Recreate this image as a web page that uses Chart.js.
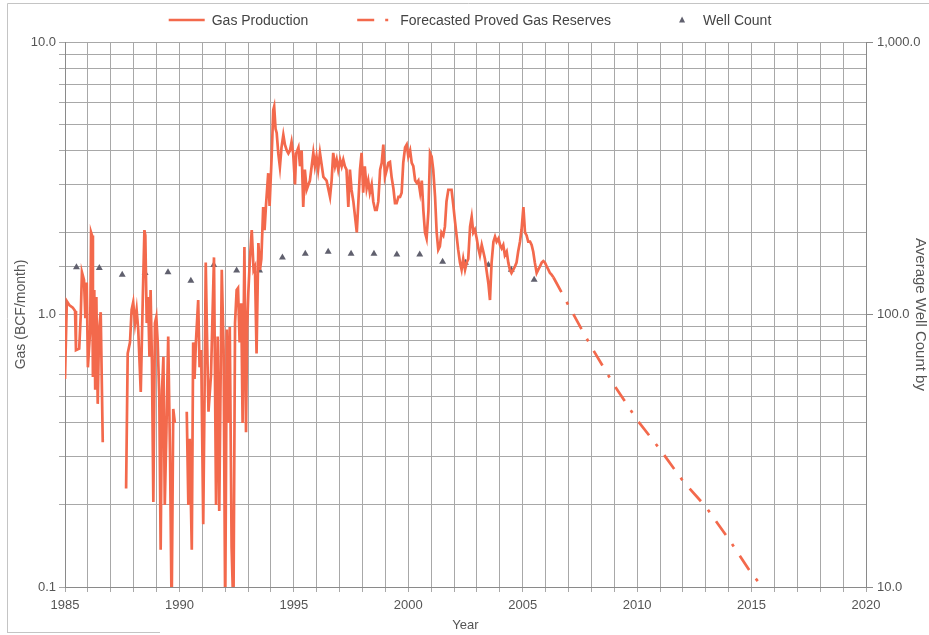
<!DOCTYPE html>
<html><head><meta charset="utf-8">
<script src="https://cdn.jsdelivr.net/npm/chart.js@4.4.1/dist/chart.umd.min.js"></script>
<style>html,body{margin:0;padding:0;background:#fff;}#wrap{position:relative;width:929px;height:635px;}</style>
</head><body><div id="wrap"><canvas id="c" width="929" height="635"></canvas></div>
<script>
const seriesNames = ['Gas Production', 'Forecasted Proved Gas Reserves', 'Well Count'];
const axisTitles = { x: 'Year', left: 'Gas (BCF/month)', right: 'Average Well Count by' };

const gasYears = [
1985.00,1985.08,1985.20,1985.34,1985.44,1985.48,1985.62,1985.69,1985.74,1985.83,1985.89,1985.95,
1986.00,1986.10,1986.14,1986.18,1986.22,1986.28,1986.32,1986.37,1986.43,1986.49,1986.56,1986.65,
1987.00,
1987.67,1987.74,1987.84,1987.91,1987.98,1988.06,1988.13,1988.20,
1988.31,1988.40,1988.47,1988.51,1988.57,1988.63,1988.69,1988.74,1988.80,1988.86,1988.93,1988.99,
1989.05,1989.12,1989.18,1989.24,1989.30,1989.36,1989.43,1989.51,1989.59,1989.66,1989.73,1989.80,
1990.00,
1990.32,1990.39,1990.45,1990.54,1990.60,1990.66,1990.72,1990.82,1990.88,1990.95,
1991.04,1991.10,1991.15,1991.20,1991.27,1991.38,1991.51,1991.60,1991.67,1991.74,1991.85,1991.93,
1992.00,1992.07,1992.13,1992.20,1992.28,1992.36,1992.43,1992.50,1992.56,1992.63,1992.70,1992.76,1992.84,1992.91,1992.96,
1993.01,1993.08,1993.16,1993.24,1993.30,1993.37,1993.45,1993.52,1993.58,1993.66,1993.72,1993.78,1993.88,1993.94,
1994.03,1994.10,1994.14,1994.20,1994.25,1994.32,1994.39,1994.46,1994.54,1994.61,1994.69,1994.76,1994.83,1994.90,1994.97,
1995.05,1995.10,1995.20,1995.27,1995.34,1995.41,1995.48,1995.56,1995.70,1995.85,1995.92,1995.99,
1996.06,1996.14,1996.29,1996.43,1996.58,1996.65,1996.72,1996.80,1996.87,1996.94,
1997.02,1997.09,1997.16,1997.23,1997.30,1997.38,1997.45,1997.52,1997.60,1997.75,1997.82,1997.89,1997.96,
1998.03,1998.10,1998.18,1998.25,1998.32,1998.40,1998.47,1998.55,1998.62,1998.69,1998.77,1998.84,1998.91,1998.98,
1999.06,1999.13,1999.20,1999.27,1999.35,1999.42,1999.49,1999.57,1999.64,1999.71,1999.78,1999.86,1999.93,
2000.00,2000.08,2000.15,2000.22,2000.30,2000.37,2000.44,2000.52,2000.59,2000.66,2000.73,2000.80,2000.88,2000.95,
2001.02,2001.09,2001.17,2001.24,2001.31,2001.38,2001.45,2001.53,2001.60,2001.67,2001.75,2001.82,2001.89,2001.96,
2002.04,2002.11,2002.18,2002.26,2002.33,2002.40,2002.48,2002.55,2002.62,2002.70,2002.77,2002.84,2002.91,2002.99,
2003.06,2003.13,2003.21,2003.28,2003.35,2003.42,2003.50,2003.57,2003.64,2003.72,2003.79,2003.86,2003.94,
2004.01,2004.08,2004.15,2004.22,2004.30,2004.37,2004.44,2004.51,2004.59,2004.66,2004.73,2004.80,2004.88,2004.95,
2005.03,2005.10,2005.17,2005.24,2005.32,2005.39,2005.46,2005.53,2005.61,2005.68,2005.75,2005.83,2005.90,2005.97,
2006.05,2006.12,2006.19,2006.26,2006.34];

const gasValues = [
0.58,1.12,1.08,1.06,1.03,0.74,0.75,1.00,1.43,1.34,0.97,1.31,
0.64,0.88,2.00,1.95,0.59,1.23,0.53,1.16,0.47,0.88,1.02,0.34,
null,
0.23,0.72,0.79,1.04,1.11,0.93,1.04,0.88,
0.52,1.16,2.04,1.95,0.93,1.16,0.70,1.23,0.66,0.205,0.93,0.98,
0.79,0.50,0.137,0.53,0.70,0.20,0.37,0.83,0.30,0.08,0.45,0.40,
null,
0.44,0.20,0.35,0.137,0.79,0.58,0.79,1.13,0.64,0.74,
0.17,0.53,1.55,0.88,0.44,0.60,1.62,0.20,0.83,0.19,1.46,0.74,
0.08,0.88,0.40,0.90,0.14,0.08,0.93,1.23,1.25,0.79,1.10,0.40,1.77,0.37,0.90,
1.20,1.60,2.04,1.46,1.50,0.72,1.83,1.46,1.60,2.48,2.04,2.50,3.30,2.50,
3.80,5.63,5.80,4.80,4.64,3.90,3.48,4.10,4.56,4.20,4.00,3.90,4.00,4.30,3.90,
3.00,3.90,4.10,3.50,4.00,2.48,3.40,2.87,3.10,3.92,3.50,3.80,
3.40,3.92,3.20,3.10,2.70,3.10,3.92,3.50,3.70,3.40,
3.70,3.50,3.70,3.50,3.40,2.48,3.40,2.87,2.60,2.00,2.60,3.40,3.92,
2.80,3.50,2.90,3.10,2.80,3.00,2.60,2.42,2.42,2.60,3.40,3.60,4.20,3.20,
3.40,3.60,3.63,3.20,2.90,2.56,2.56,2.70,2.70,2.80,3.60,4.10,4.20,
3.80,4.00,3.60,3.50,3.10,3.04,3.10,2.80,3.10,2.40,2.00,1.90,2.40,3.92,
3.80,3.40,2.70,2.00,1.73,1.78,2.00,1.95,2.10,2.60,2.87,2.87,2.87,2.55,
2.20,1.95,1.73,1.55,1.46,1.60,1.46,1.55,1.60,2.10,2.28,2.00,2.05,1.90,
1.75,1.65,1.80,1.70,1.60,1.45,1.30,1.13,1.55,1.85,1.93,1.85,1.90,
1.80,1.75,1.80,1.65,1.70,1.55,1.46,1.42,1.46,1.50,1.55,1.70,1.85,2.05,
2.48,2.00,1.95,1.85,1.85,1.80,1.70,1.55,1.42,1.46,1.50,1.55,1.57,1.55,
1.50,1.46,1.42,1.40,1.37];

const forecastYears  = [2006.34, 2007, 2008, 2009, 2010, 2011, 2012, 2013, 2014, 2015, 2015.7];
const forecastValues = [1.37, 1.08, 0.76, 0.55, 0.41, 0.32, 0.245, 0.197, 0.15, 0.112, 0.095];

const wellYears  = [1985.5,1986.5,1987.5,1988.5,1989.5,1990.5,1991.5,1992.5,1993.5,1994.5,1995.5,1996.5,1997.5,1998.5,1999.5,2000.5,2001.5,2002.5,2003.5,2004.5,2005.5];
const wellCounts = [149,148,140,142,143,133,152,145,145,162,167,170,167,167,166,166,156,155,152,146,134];

const xTickYears = [1985,1990,1995,2000,2005,2010,2015,2020];
const leftRange = [0.1, 10];
const rightRange = [10, 1000];
const xRange = [1985, 2020];

const toPoints = (xs, ys) => xs.map((x, i) => ({ x: x, y: ys[i] }));
const isDecade = v => Math.abs(Math.log10(v) - Math.round(Math.log10(v))) < 1e-6;

Chart.defaults.font.family = '"Liberation Sans", Arial, sans-serif';
Chart.defaults.color = '#555';

const lineColor = '#f3694c';
const gridColor = '#a8a8a8';

const framePlugin = {
  id: 'frame',
  beforeDraw(chart) {
    const ctx = chart.ctx;
    ctx.save();
    ctx.fillStyle = '#fff';
    ctx.fillRect(0, 0, chart.width, chart.height);
    ctx.strokeStyle = '#c4c4c4';
    ctx.lineWidth = 1;
    ctx.beginPath();
    ctx.moveTo(7.5, chart.height - 2);
    ctx.lineTo(7.5, 3.5);
    ctx.lineTo(chart.width, 3.5);
    ctx.moveTo(7.5, chart.height - 2.5);
    ctx.lineTo(160, chart.height - 2.5);
    ctx.stroke();
    ctx.restore();
  }
};

const legendPlugin = {
  id: 'customLegend',
  afterDraw(chart) {
    const ctx = chart.ctx;
    ctx.save();
    ctx.font = '14px "Liberation Sans", Arial, sans-serif';
    ctx.textBaseline = 'middle';
    const sampleW = 36, textGap = 7, itemGap = 49, y = 20;
    const items = chart.data.datasets.map(ds => ({ ds, w: sampleW + textGap + ctx.measureText(ds.label).width }));
    const total = items.reduce((a, b) => a + b.w, 0) + itemGap * (items.length - 1);
    let x = 470 - total / 2;
    items.forEach(it => {
      const ds = it.ds;
      if (ds.showLine === false) {
        const cx = x + sampleW / 2 + 4;
        ctx.fillStyle = ds.backgroundColor;
        ctx.beginPath();
        ctx.moveTo(cx, y - 3.5);
        ctx.lineTo(cx + 3, y + 2.5);
        ctx.lineTo(cx - 3, y + 2.5);
        ctx.closePath();
        ctx.fill();
      } else {
        ctx.strokeStyle = ds.borderColor;
        ctx.lineWidth = ds.borderWidth;
        ctx.setLineDash(ds.borderDash || []);
        ctx.beginPath();
        ctx.moveTo(x, y);
        ctx.lineTo(x + sampleW, y);
        ctx.stroke();
        ctx.setLineDash([]);
      }
      ctx.fillStyle = '#444';
      ctx.fillText(ds.label, x + sampleW + textGap, y + 1);
      x += it.w + itemGap;
    });
    ctx.restore();
  }
};

new Chart(document.getElementById('c'), {
  type: 'line',
  data: {
    datasets: [
      {
        label: seriesNames[0],
        data: toPoints(gasYears, gasValues),
        borderColor: lineColor, backgroundColor: lineColor,
        borderWidth: 2.7, pointRadius: 0, tension: 0, spanGaps: false,
        yAxisID: 'y'
      },
      {
        label: seriesNames[1],
        data: toPoints(forecastYears, forecastValues),
        borderColor: lineColor, backgroundColor: lineColor,
        borderWidth: 2.7, borderDash: [17, 11, 3, 11], pointRadius: 0, tension: 0,
        yAxisID: 'y'
      },
      {
        label: seriesNames[2],
        data: toPoints(wellYears, wellCounts),
        showLine: false,
        pointStyle: 'triangle', pointRadius: 4, pointBorderWidth: 0,
        borderColor: '#60606e', backgroundColor: '#60606e',
        yAxisID: 'y2'
      }
    ]
  },
  options: {
    responsive: false,
    animation: false,
    layout: { padding: { top: 42, left: 0, right: 0, bottom: 0 } },
    plugins: { legend: { display: false }, tooltip: { enabled: false } },
    scales: {
      x: {
        type: 'linear', min: xRange[0], max: xRange[1],
        afterFit(s) { s.height = 48; },
        ticks: {
          stepSize: 1, maxTicksLimit: 100, autoSkip: false, maxRotation: 0, minRotation: 0,
          color: '#555', font: { size: 13 }, padding: 6,
          callback: v => xTickYears.includes(v) ? String(v) : ''
        },
        grid: { color: gridColor, tickLength: 5 },
        border: { color: '#8a8a8a' },
        title: { display: true, text: axisTitles.x, color: '#555', font: { size: 13 }, padding: { top: 0, bottom: 2 } }
      },
      y: {
        type: 'logarithmic', position: 'left', min: leftRange[0], max: leftRange[1],
        afterFit(s) { s.width = 65; },
        ticks: {
          autoSkip: false, color: '#555', font: { size: 13 }, padding: 3,
          callback: v => isDecade(v) ? Number(v).toFixed(1) : ''
        },
        grid: { color: gridColor, tickLength: 6 },
        border: { color: '#8a8a8a' },
        title: { display: true, text: axisTitles.left, color: '#555', font: { size: 14 }, padding: { top: 13, bottom: 0 } }
      },
      y2: {
        type: 'logarithmic', position: 'right', min: rightRange[0], max: rightRange[1],
        afterFit(s) { s.width = 63; },
        ticks: {
          autoSkip: false, color: '#555', font: { size: 13 }, padding: 4,
          callback: v => isDecade(v) ? Number(v).toLocaleString('en-US', { minimumFractionDigits: 1, maximumFractionDigits: 1 }) : null
        },
        grid: { drawOnChartArea: false, color: '#8a8a8a', tickLength: 7 },
        border: { color: '#8a8a8a' },
        title: { display: true, text: axisTitles.right, color: '#555', font: { size: 15 }, padding: { top: 0, bottom: 0 } }
      }
    }
  },
  plugins: [framePlugin, legendPlugin]
});
</script></body></html>
